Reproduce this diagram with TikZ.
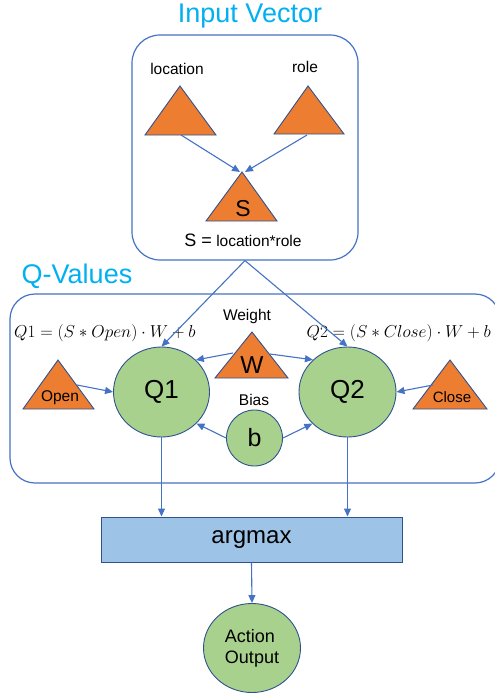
\documentclass[tikz,border=0pt]{standalone}
\usepackage{fontspec}
\setmainfont{Liberation Sans}
\usetikzlibrary{arrows.meta,shapes.geometric}
\definecolor{titlecyan}{HTML}{00B0F0}
\definecolor{lineblue}{HTML}{4472C4}
\definecolor{edgeblue}{HTML}{2F528F}
\definecolor{triorange}{HTML}{ED7D31}
\definecolor{nodegreen}{HTML}{A9D18E}
\definecolor{barblue}{HTML}{9DC3E6}

\begin{document}
\begin{tikzpicture}[x=1pt,y=-1pt,
  txt/.style={inner sep=0pt, anchor=base, font=\fontsize{15.5}{18}\selectfont},
  title/.style={inner sep=0pt, anchor=base, text=titlecyan, font=\fontsize{27}{32}\selectfont},
  formula/.style={inner sep=0pt, font=\fontsize{17.5}{20}\selectfont},
  tri/.style={fill=triorange, draw=edgeblue, line width=0.9pt, line join=miter},
  frame/.style={rectangle, draw=lineblue, line width=1.2pt, rounded corners=28pt, inner sep=0pt},
  arr/.style={draw=lineblue, line width=1.1pt, -{Triangle[length=8pt,width=7pt]}},
  bubble/.style={ellipse, draw=edgeblue, line width=0.9pt, fill=nodegreen, inner sep=0pt},
]
\useasboundingbox (0,0) rectangle (495,696);
\clip (0,0) rectangle (495,696);

% ---------- input vector ----------
\node[title] (intitle) at (250,23) {Input Vector};
\node[frame, minimum width=226pt, minimum height=225pt] (inbox) at (245,147.5) {};

\node[txt] (loclab) at (177,74) {location};
\node[txt] (rolelab) at (305,72) {role};

\draw[tri] (145,135) -- (180,86) -- (216,135) -- cycle;
\draw[tri] (274,134) -- (308,86) -- (344,134) -- cycle;
\draw[tri] (206,221) -- (242,172) -- (277,221) -- cycle;
\coordinate (locout) at (181,135);
\coordinate (roleout) at (307,135);
\coordinate (sinl) at (240,172);
\coordinate (sinr) at (245,172);

\node[txt, font=\fontsize{23}{26}\selectfont] (slab) at (243,216) {S};
\node[txt] (sdef) at (243,246) {{\fontsize{18}{20}\selectfont S =} location*role};

\draw[arr] (locout) -- (sinl);
\draw[arr] (roleout) -- (sinr);

% ---------- Q-values ----------
\node[title] (qtitle) at (77,283) {Q-Values};
\node[frame, rounded corners=25pt, minimum width=490pt, minimum height=189pt] (qbox) at (255,388.5) {};

\node[formula, anchor=base west] (q1f) at (14,337)
  {$Q1 = (S \ast Open)\cdot W + b$};
\node[formula, anchor=base east] (q2f) at (491,337)
  {$Q2 = (S \ast Close)\cdot W + b$};

\node[bubble, minimum width=96pt, minimum height=90pt, font=\fontsize{26}{30}\selectfont] (q1) at (161.5,392) {Q1};
\node[bubble, minimum width=97pt, minimum height=90pt, font=\fontsize{26}{30}\selectfont] (q2) at (347.5,392) {Q2};
\node[bubble, circle, minimum size=56pt, font=\fontsize{25}{28}\selectfont] (bias) at (254.5,438) {b};

\node[txt] (wlab) at (247,320) {Weight};
\draw[tri] (215,378) -- (252,332) -- (288,378) -- cycle;
\node[txt, font=\fontsize{24.5}{28}\selectfont] (wsym) at (252,373) {W};
\coordinate (wl) at (233,353);
\coordinate (wr) at (270,354);

\node[txt] (blab) at (254,405) {Bias};

\draw[tri] (23,409) -- (58,360) -- (94,409) -- cycle;
\node[txt, font=\fontsize{15.5}{18}\selectfont] (openlab) at (60,401) {Open};
\coordinate (openout) at (77,385);

\draw[tri] (413,409) -- (450,360) -- (487,409) -- cycle;
\node[txt, font=\fontsize{15}{18}\selectfont] (closelab) at (452,402) {Close};
\coordinate (closeout) at (433,385);

\draw[arr] (inbox.south) -- (q1.north);
\draw[arr] (inbox.south) -- (q2.north);
\draw[arr] (wl) -- (q1.43);
\draw[arr] (wr) -- (q2.137);
\draw[arr] (bias.180) -- (q1.-42);
\draw[arr] (bias.0) -- (q2.-138);
\draw[arr] (openout) -- (q1.west);
\draw[arr] (closeout) -- (q2.east);

% ---------- output ----------
\node[rectangle, draw=edgeblue, line width=1pt, fill=barblue, minimum width=301pt, minimum height=45pt,
      font=\fontsize{24}{28}\selectfont] (argmax) at (251.5,539.5) {argmax};
\node[bubble, minimum width=97pt, minimum height=89pt, align=left, font=\fontsize{18}{21}\selectfont] (action) at (252,648) {Action\\Output};

\draw[arr] (q1.south) -- (q1.south |- argmax.north);
\draw[arr] (q2.south) -- (q2.south |- argmax.north);
\draw[arr] (argmax.south) -- (action.north);
\end{tikzpicture}
\end{document}
